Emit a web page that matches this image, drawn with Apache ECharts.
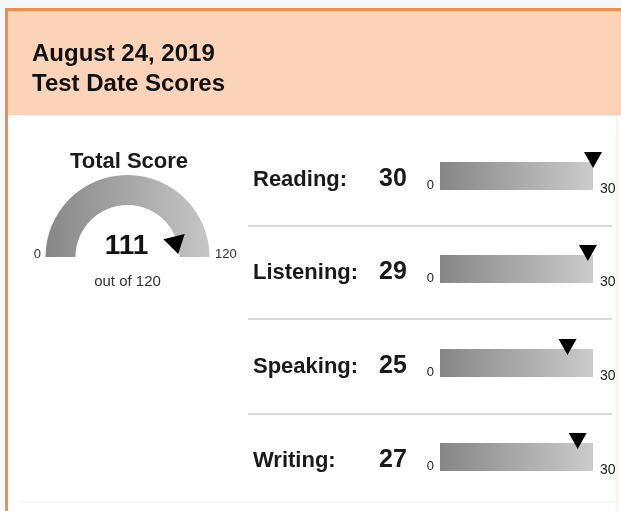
<!DOCTYPE html>
<html>
<head>
<meta charset="utf-8">
<style>
html, body { margin: 0; padding: 0; background: #f4f8fa; }
#main { width: 621px; height: 511px; }
</style>
<script src="https://cdn.jsdelivr.net/npm/echarts@6/dist/echarts.min.js"></script>
</head>
<body>
<div id="main"></div>
<script>
// scores
var sections = ['Reading:', 'Listening:', 'Speaking:', 'Writing:'];
var scores = [30, 29, 25, 27];
var sectionMin = [0, 0, 0, 0];
var sectionMax = [30, 30, 30, 30];
var totalScore = 111;
var totalMin = 0;
var totalMax = 120;

var FONT = '"Liberation Sans", Arial, Helvetica, sans-serif';
var myChart = echarts.init(document.getElementById('main'));

// layout of the rows on the right
var barTops = [162, 255, 349, 443];
var barLeft = 440, barW = 153, barH = 28;
var gaugeCx = 127.5, gaugeCy = 257, gaugeR = 82;

function grayGrad(c0, c1) {
    return new echarts.graphic.LinearGradient(0, 0, 1, 0, [
        { offset: 0, color: c0 },
        { offset: 1, color: c1 }
    ]);
}

var grids = [], xAxes = [], yAxes = [], series = [];
var graphics = [
    // card frame
    { type: 'rect', shape: { x: 8, y: 115, width: 613, height: 396 }, style: { fill: '#ffffff' } },
    { type: 'rect', shape: { x: 8, y: 11, width: 613, height: 104 }, style: { fill: '#fbd3b9' } },
    { type: 'rect', shape: { x: 5, y: 8, width: 616, height: 3 }, style: { fill: '#f08c50' } },
    { type: 'rect', shape: { x: 5, y: 8, width: 3, height: 503 }, style: { fill: '#f08c50' } },
    { type: 'line', shape: { x1: 617, y1: 115, x2: 617, y2: 511 }, style: { stroke: '#fbe6d8', lineWidth: 1 } },
    { type: 'line', shape: { x1: 20, y1: 502, x2: 621, y2: 502 }, style: { stroke: '#f6f0ea', lineWidth: 1 } },
    // gauge end labels
    { type: 'text', x: gaugeCx - 86.5, y: gaugeCy - 3,
      style: { text: String(totalMin), font: '13px ' + FONT, fill: '#333', align: 'right', verticalAlign: 'middle' } },
    { type: 'text', x: gaugeCx + 87.5, y: gaugeCy - 3,
      style: { text: String(totalMax), font: '13px ' + FONT, fill: '#333', align: 'left', verticalAlign: 'middle' } }
];

// separators between rows
[226, 319, 414].forEach(function (y) {
    graphics.push({ type: 'line', shape: { x1: 248, y1: y, x2: 612, y2: y },
        style: { stroke: '#dadada', lineWidth: 2 } });
});

sections.forEach(function (name, i) {
    var top = barTops[i];
    grids.push({ left: barLeft, top: top, width: barW, height: barH });
    xAxes.push({ gridIndex: i, type: 'value', min: sectionMin[i], max: sectionMax[i], show: false });
    yAxes.push({ gridIndex: i, type: 'category', data: [name], show: false });

    // full range track
    series.push({
        type: 'bar', xAxisIndex: i, yAxisIndex: i,
        data: [sectionMax[i]], barWidth: barH, silent: true,
        itemStyle: { color: grayGrad('#868686', '#cbcbcb') }
    });
    // score marker
    series.push({
        type: 'scatter', xAxisIndex: i, yAxisIndex: i, clip: false, silent: true,
        data: [[scores[i], 0]],
        symbol: 'triangle', symbolRotate: 180, symbolSize: [18, 16], symbolOffset: [0, -16],
        itemStyle: { color: '#000', opacity: 1 }, z: 5
    });

    graphics.push(
        { type: 'text', x: 253, y: top + 18,
          style: { text: name, font: 'bold 22px ' + FONT, fill: '#1a1a1a', verticalAlign: 'middle' } },
        { type: 'text', x: 379, y: top + 17,
          style: { text: String(scores[i]), font: 'bold 25px ' + FONT, fill: '#1a1a1a', verticalAlign: 'middle' } },
        { type: 'text', x: 434, y: top + 23,
          style: { text: String(sectionMin[i]), font: '13px ' + FONT, fill: '#222', align: 'right', verticalAlign: 'middle' } },
        { type: 'text', x: 600, y: top + 27,
          style: { text: String(sectionMax[i]), font: '14px ' + FONT, fill: '#222', align: 'left', verticalAlign: 'middle' } }
    );
});

// total score gauge
series.push({
    type: 'gauge',
    center: [gaugeCx, gaugeCy],
    radius: gaugeR,
    startAngle: 180,
    endAngle: 0,
    min: totalMin,
    max: totalMax,
    splitNumber: 1,
    axisLine: { lineStyle: { width: 30, color: [[1, grayGrad('#878787', '#c6c6c6')]] } },
    axisTick: { show: false },
    splitLine: { show: false },
    axisLabel: { show: false },
    progress: { show: false },
    anchor: { show: false },
    pointer: {
        icon: 'path://M0,0L18,11L0,22Z',
        width: 18, length: 22, offsetCenter: [0, -39], keepAspect: false,
        itemStyle: { color: '#000' }
    },
    title: { offsetCenter: [0, 25], fontSize: 15, color: '#333', fontFamily: FONT },
    detail: {
        offsetCenter: [-1, -11], fontSize: 28, fontWeight: 'bold', color: '#111',
        fontFamily: FONT, formatter: '{value}'
    },
    data: [{ value: totalScore, name: 'out of ' + totalMax }]
});

var option = {
    animation: false,
    title: [
        {
            text: 'August 24, 2019\nTest Date Scores',
            left: 32, top: 39, padding: 0,
            textStyle: { fontSize: 24, fontWeight: 'bold', lineHeight: 30, color: '#111', fontFamily: FONT }
        },
        {
            text: 'Total Score',
            left: 129, top: 151, padding: 0, textAlign: 'center',
            textStyle: { fontSize: 22, fontWeight: 'bold', color: '#1a1a1a', fontFamily: FONT }
        }
    ],
    graphic: graphics,
    grid: grids,
    xAxis: xAxes,
    yAxis: yAxes,
    series: series
};

myChart.setOption(option);
</script>
</body>
</html>
